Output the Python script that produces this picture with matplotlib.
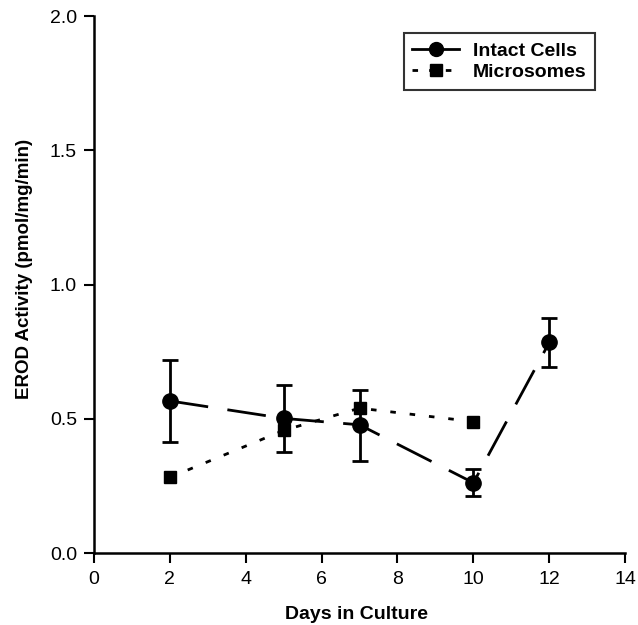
import matplotlib
matplotlib.use("Agg")
import matplotlib.pyplot as plt
from matplotlib.lines import Line2D

plt.rcParams['font.family'] = ['Liberation Sans', 'DejaVu Sans']

# Intact cells
days_cells = [2, 5, 7, 10, 12]
erod_cells = [0.567, 0.502, 0.478, 0.262, 0.785]
err_cells_hi = [0.152, 0.124, 0.128, 0.050, 0.090]
err_cells_lo = [0.152, 0.127, 0.136, 0.048, 0.090]

# Microsomes
days_micro = [2, 5, 7, 10]
erod_micro = [0.282, 0.457, 0.540, 0.490]

fig = plt.figure(figsize=(6.38, 6.25), dpi=100)
ax = fig.add_axes([0.147, 0.115, 0.833, 0.859])

ax.errorbar(days_cells, erod_cells, yerr=[err_cells_lo, err_cells_hi], color='black',
            marker='o', markersize=11, linewidth=2, dashes=(14, 7),
            elinewidth=2, capsize=6, capthick=2, zorder=3)
ax.plot(days_micro, erod_micro, color='black', marker='s', markersize=8,
        linewidth=2, linestyle=(0, (2, 5)), zorder=3)

ax.set_xlim(0, 14)
ax.set_ylim(0, 2.0)
ax.set_xticks(range(0, 15, 2))
ax.set_yticks([0.0, 0.5, 1.0, 1.5, 2.0])
ax.set_yticklabels(['0.0', '0.5', '1.0', '1.5', '2.0'])

for s in ['top', 'right']:
    ax.spines[s].set_visible(False)
for s in ['left', 'bottom']:
    ax.spines[s].set_linewidth(1.8)
ax.tick_params(direction='out', length=7, width=1.5, labelsize=14)
ax.tick_params(axis='x', pad=6)
ax.tick_params(axis='y', pad=5)

ax.set_xlabel('Days in Culture', fontsize=14, fontweight='bold')
ax.set_ylabel('EROD Activity (pmol/mg/min)', fontsize=13.5, fontweight='bold')
ax.xaxis.set_label_coords(0.495, -0.098)
ax.yaxis.set_label_coords(-0.115, 0.53)

handles = [
    Line2D([0], [0], color='black', marker='o', markersize=10, linewidth=2),
    Line2D([0], [0], color='black', marker='s', markersize=8, linewidth=2, linestyle=(0, (2, 4))),
]
leg = ax.legend(handles, ['Intact Cells', 'Microsomes'], loc='upper right',
                bbox_to_anchor=(0.943, 0.968), borderaxespad=0, fancybox=False,
                edgecolor='black', prop={'weight': 'bold', 'size': 14},
                handlelength=2.4, borderpad=0.45, labelspacing=0.2, handletextpad=0.7)
leg.get_frame().set_linewidth(1.5)

fig.savefig('out.png', dpi=100)
